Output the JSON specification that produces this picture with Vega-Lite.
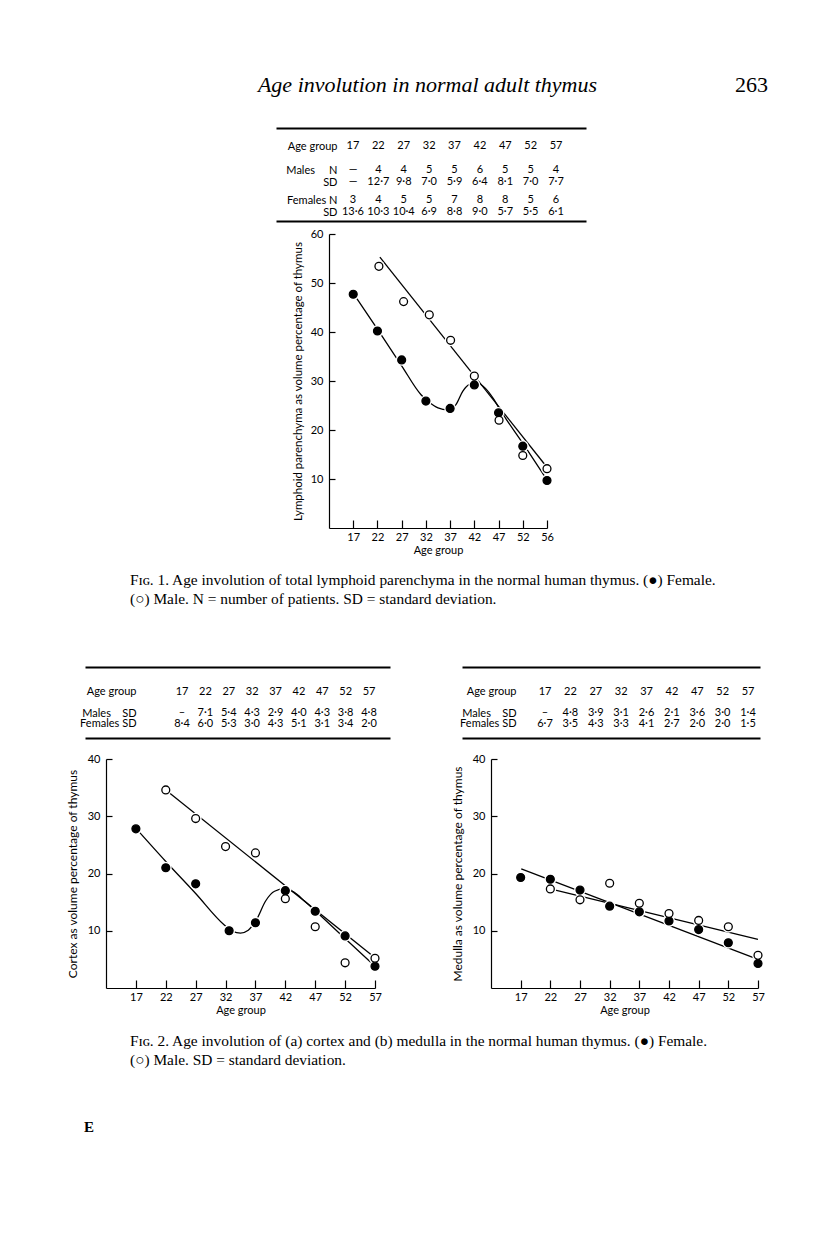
{
  "$schema": "https://vega.github.io/schema/vega-lite/v6.json",
  "background": "white",
  "padding": 0,
  "spacing": 0,
  "bounds": "full",
  "align": "none",
  "datasets": {
    "ages": [
      {"row": "hdr", "age": 17, "txt": "17"}, {"row": "hdr", "age": 22, "txt": "22"}, {"row": "hdr", "age": 27, "txt": "27"},
      {"row": "hdr", "age": 32, "txt": "32"}, {"row": "hdr", "age": 37, "txt": "37"}, {"row": "hdr", "age": 42, "txt": "42"},
      {"row": "hdr", "age": 47, "txt": "47"}, {"row": "hdr", "age": 52, "txt": "52"}, {"row": "hdr", "age": 57, "txt": "57"}
    ],
    "t1_vals": [
      {"row": "mN", "age": 17, "txt": "—"}, {"row": "mN", "age": 22, "txt": "4"}, {"row": "mN", "age": 27, "txt": "4"},
      {"row": "mN", "age": 32, "txt": "5"}, {"row": "mN", "age": 37, "txt": "5"}, {"row": "mN", "age": 42, "txt": "6"},
      {"row": "mN", "age": 47, "txt": "5"}, {"row": "mN", "age": 52, "txt": "5"}, {"row": "mN", "age": 57, "txt": "4"},
      {"row": "mSD", "age": 17, "txt": "—"}, {"row": "mSD", "age": 22, "txt": "12·7"}, {"row": "mSD", "age": 27, "txt": "9·8"},
      {"row": "mSD", "age": 32, "txt": "7·0"}, {"row": "mSD", "age": 37, "txt": "5·9"}, {"row": "mSD", "age": 42, "txt": "6·4"},
      {"row": "mSD", "age": 47, "txt": "8·1"}, {"row": "mSD", "age": 52, "txt": "7·0"}, {"row": "mSD", "age": 57, "txt": "7·7"},
      {"row": "fN", "age": 17, "txt": "3"}, {"row": "fN", "age": 22, "txt": "4"}, {"row": "fN", "age": 27, "txt": "5"},
      {"row": "fN", "age": 32, "txt": "5"}, {"row": "fN", "age": 37, "txt": "7"}, {"row": "fN", "age": 42, "txt": "8"},
      {"row": "fN", "age": 47, "txt": "8"}, {"row": "fN", "age": 52, "txt": "5"}, {"row": "fN", "age": 57, "txt": "6"},
      {"row": "fSD", "age": 17, "txt": "13·6"}, {"row": "fSD", "age": 22, "txt": "10·3"}, {"row": "fSD", "age": 27, "txt": "10·4"},
      {"row": "fSD", "age": 32, "txt": "6·9"}, {"row": "fSD", "age": 37, "txt": "8·8"}, {"row": "fSD", "age": 42, "txt": "9·0"},
      {"row": "fSD", "age": 47, "txt": "5·7"}, {"row": "fSD", "age": 52, "txt": "5·5"}, {"row": "fSD", "age": 57, "txt": "6·1"}
    ],
    "t2a_vals": [
      {"row": "mSD", "age": 17, "txt": "–"}, {"row": "mSD", "age": 22, "txt": "7·1"}, {"row": "mSD", "age": 27, "txt": "5·4"},
      {"row": "mSD", "age": 32, "txt": "4·3"}, {"row": "mSD", "age": 37, "txt": "2·9"}, {"row": "mSD", "age": 42, "txt": "4·0"},
      {"row": "mSD", "age": 47, "txt": "4·3"}, {"row": "mSD", "age": 52, "txt": "3·8"}, {"row": "mSD", "age": 57, "txt": "4·8"},
      {"row": "fSD", "age": 17, "txt": "8·4"}, {"row": "fSD", "age": 22, "txt": "6·0"}, {"row": "fSD", "age": 27, "txt": "5·3"},
      {"row": "fSD", "age": 32, "txt": "3·0"}, {"row": "fSD", "age": 37, "txt": "4·3"}, {"row": "fSD", "age": 42, "txt": "5·1"},
      {"row": "fSD", "age": 47, "txt": "3·1"}, {"row": "fSD", "age": 52, "txt": "3·4"}, {"row": "fSD", "age": 57, "txt": "2·0"}
    ],
    "t2b_vals": [
      {"row": "mSD", "age": 17, "txt": "–"}, {"row": "mSD", "age": 22, "txt": "4·8"}, {"row": "mSD", "age": 27, "txt": "3·9"},
      {"row": "mSD", "age": 32, "txt": "3·1"}, {"row": "mSD", "age": 37, "txt": "2·6"}, {"row": "mSD", "age": 42, "txt": "2·1"},
      {"row": "mSD", "age": 47, "txt": "3·6"}, {"row": "mSD", "age": 52, "txt": "3·0"}, {"row": "mSD", "age": 57, "txt": "1·4"},
      {"row": "fSD", "age": 17, "txt": "6·7"}, {"row": "fSD", "age": 22, "txt": "3·5"}, {"row": "fSD", "age": 27, "txt": "4·3"},
      {"row": "fSD", "age": 32, "txt": "3·3"}, {"row": "fSD", "age": 37, "txt": "4·1"}, {"row": "fSD", "age": 42, "txt": "2·7"},
      {"row": "fSD", "age": 47, "txt": "2·0"}, {"row": "fSD", "age": 52, "txt": "2·0"}, {"row": "fSD", "age": 57, "txt": "1·5"}
    ],
    "f1_pts": [
      {"sex": "Female", "age": 17, "pct": 47.7}, {"sex": "Female", "age": 22, "pct": 40.2}, {"sex": "Female", "age": 27, "pct": 34.3},
      {"sex": "Female", "age": 32, "pct": 25.9}, {"sex": "Female", "age": 37, "pct": 24.4}, {"sex": "Female", "age": 42, "pct": 29.2},
      {"sex": "Female", "age": 47, "pct": 23.5}, {"sex": "Female", "age": 52, "pct": 16.7}, {"sex": "Female", "age": 57, "pct": 9.7},
      {"sex": "Male", "age": 22.3, "pct": 53.4}, {"sex": "Male", "age": 27.4, "pct": 46.2}, {"sex": "Male", "age": 32.7, "pct": 43.5},
      {"sex": "Male", "age": 37.1, "pct": 38.3}, {"sex": "Male", "age": 42, "pct": 31.0}, {"sex": "Male", "age": 47.1, "pct": 22.0},
      {"sex": "Male", "age": 52, "pct": 14.8}, {"sex": "Male", "age": 57, "pct": 12.1}
    ],
    "f1_lines": [
      {"fit": "Female", "age": 17, "pct": 47.9}, {"fit": "Female", "age": 22, "pct": 40.6}, {"fit": "Female", "age": 27, "pct": 33.1},
      {"fit": "Female", "age": 31, "pct": 27.2}, {"fit": "Female", "age": 32.5, "pct": 25.8},
      {"fit": "Female", "age": 34.5, "pct": 24.5}, {"fit": "Female", "age": 36.5, "pct": 24.1}, {"fit": "Female", "age": 38.2, "pct": 25.2},
      {"fit": "Female", "age": 39.6, "pct": 27.9}, {"fit": "Female", "age": 41, "pct": 29.3}, {"fit": "Female", "age": 42.5, "pct": 29.6},
      {"fit": "Female", "age": 44.3, "pct": 28.5}, {"fit": "Female", "age": 46, "pct": 26.3}, {"fit": "Female", "age": 47.2, "pct": 24.3},
      {"fit": "Female", "age": 52, "pct": 17.3}, {"fit": "Female", "age": 57, "pct": 9.8},
      {"fit": "Male", "age": 22.5, "pct": 55.3}, {"fit": "Male", "age": 57, "pct": 12.4}
    ],
    "f2a_pts": [
      {"sex": "Female", "age": 17, "pct": 27.8}, {"sex": "Female", "age": 22, "pct": 21.0}, {"sex": "Female", "age": 27, "pct": 18.2},
      {"sex": "Female", "age": 32.6, "pct": 10.0}, {"sex": "Female", "age": 37, "pct": 11.4}, {"sex": "Female", "age": 42, "pct": 17.0},
      {"sex": "Female", "age": 47, "pct": 13.4}, {"sex": "Female", "age": 52, "pct": 9.1}, {"sex": "Female", "age": 57, "pct": 3.8},
      {"sex": "Male", "age": 22, "pct": 34.6}, {"sex": "Male", "age": 27, "pct": 29.6}, {"sex": "Male", "age": 32, "pct": 24.7},
      {"sex": "Male", "age": 37, "pct": 23.6}, {"sex": "Male", "age": 42, "pct": 15.6}, {"sex": "Male", "age": 47, "pct": 10.7},
      {"sex": "Male", "age": 52, "pct": 4.4}, {"sex": "Male", "age": 57, "pct": 5.2}
    ],
    "f2a_lines": [
      {"fit": "Female", "age": 17, "pct": 27.9}, {"fit": "Female", "age": 22, "pct": 22.1}, {"fit": "Female", "age": 27, "pct": 16.5},
      {"fit": "Female", "age": 31.7, "pct": 11.1}, {"fit": "Female", "age": 33.2, "pct": 9.9},
      {"fit": "Female", "age": 34.5, "pct": 9.6}, {"fit": "Female", "age": 35.8, "pct": 10.1}, {"fit": "Female", "age": 37.2, "pct": 12.0},
      {"fit": "Female", "age": 38.7, "pct": 15.2}, {"fit": "Female", "age": 40.2, "pct": 16.9}, {"fit": "Female", "age": 41.8, "pct": 17.3},
      {"fit": "Female", "age": 43.5, "pct": 16.7}, {"fit": "Female", "age": 45.2, "pct": 15.2}, {"fit": "Female", "age": 51, "pct": 9.6},
      {"fit": "Female", "age": 57, "pct": 3.8},
      {"fit": "Male", "age": 22, "pct": 34.6}, {"fit": "Male", "age": 57, "pct": 5.3}
    ],
    "f2b_pts": [
      {"sex": "Female", "age": 17, "pct": 19.3}, {"sex": "Female", "age": 22, "pct": 19.0}, {"sex": "Female", "age": 27, "pct": 17.1},
      {"sex": "Female", "age": 32, "pct": 14.3}, {"sex": "Female", "age": 37, "pct": 13.3}, {"sex": "Female", "age": 42, "pct": 11.7},
      {"sex": "Female", "age": 47, "pct": 10.2}, {"sex": "Female", "age": 52, "pct": 7.9}, {"sex": "Female", "age": 57, "pct": 4.3},
      {"sex": "Male", "age": 22, "pct": 17.3}, {"sex": "Male", "age": 27, "pct": 15.4}, {"sex": "Male", "age": 32, "pct": 18.3},
      {"sex": "Male", "age": 37, "pct": 14.8}, {"sex": "Male", "age": 42, "pct": 13.0}, {"sex": "Male", "age": 47, "pct": 11.8},
      {"sex": "Male", "age": 52, "pct": 10.7}, {"sex": "Male", "age": 57, "pct": 5.7}
    ],
    "f2b_lines": [
      {"fit": "Female", "age": 17.1, "pct": 20.8}, {"fit": "Female", "age": 57, "pct": 5.0},
      {"fit": "Male", "age": 21.3, "pct": 17.5}, {"fit": "Male", "age": 57, "pct": 8.5}
    ]
  },
  "vconcat": [
    {"width": 816, "height": 74, "data": {"values": []}, "mark": "point"},
    {
      "hconcat": [
        {"width": 276, "height": 99.5, "data": {"values": []}, "mark": "point"},
        {
          "width": 310, "height": 93,
          "title": {"text": "Age involution in normal adult thymus", "orient": "top", "anchor": "middle", "frame": "group", "font": "Liberation Serif", "fontStyle": "italic", "fontSize": 22, "fontWeight": "normal", "offset": 31, "dx": -3.5},
          "encoding": {
            "y": {"field": "row", "type": "ordinal",
              "scale": {"type": "point", "padding": 0, "domain": ["k0", "k1", "k2", "k3", "k4", "k5", "hdr", "k7", "k8", "k9", "k10", "k11", "k12", "k13", "mN", "k15", "k16", "k17", "mSD", "k19", "k20", "k21", "k22", "k23", "fN", "k25", "k26", "k27", "fSD", "k29", "k30", "k31"]},
              "axis": {"values": ["hdr", "mN", "mSD", "fN", "fSD"], "title": null, "domain": false, "ticks": false, "tickSize": 0, "labelPadding": -61, "labelAlign": "right", "labelFontSize": 11,
                "labelExpr": "datum.value == 'hdr' ? 'Age group' : datum.value == 'mN' ? 'Males\u00a0\u00a0\u00a0\u00a0\u00a0N\u00a0\u00a0' : datum.value == 'mSD' ? 'SD' : datum.value == 'fN' ? 'Females N\u00a0\u00a0\u00a0' : 'SD'"}}
          },
          "layer": [
            {"data": {"name": "ages"}, "mark": {"type": "text", "font": "Lato", "fontSize": 11, "color": "black"},
              "encoding": {"x": {"field": "age", "type": "quantitative", "scale": {"domain": [1.83, 62.91], "nice": false, "zero": false},
                "axis": {"orient": "top", "labels": false, "ticks": false, "tickSize": 0, "title": null, "domainWidth": 2}},
                "text": {"field": "txt"}}},
            {"data": {"name": "t1_vals"}, "mark": {"type": "text", "font": "Lato", "fontSize": 11, "color": "black"},
              "encoding": {"x": {"field": "age", "type": "quantitative", "scale": {"domain": [1.83, 62.91], "nice": false, "zero": false},
                "axis": {"orient": "bottom", "labels": false, "ticks": false, "tickSize": 0, "title": null, "domainWidth": 2}},
                "text": {"field": "txt"}}}
          ],
          "resolve": {"axis": {"x": "independent"}}
        },
        {"width": 149, "height": 1, "data": {"values": []}, "mark": "point"},
        {"width": 81, "height": 1, "data": {"values": []}, "mark": "point",
          "title": {"text": "263", "orient": "top", "anchor": "start", "frame": "group", "font": "Liberation Serif", "fontSize": 22, "fontWeight": "normal", "offset": 31}}
      ],
      "spacing": 0, "bounds": "flush", "align": "none"
    },
    {
      "hconcat": [
        {"width": 329, "height": 338, "data": {"values": []}, "mark": "point"},
        {
          "width": 218, "height": 294,
          "encoding": {
            "x": {"field": "age", "type": "quantitative", "scale": {"domain": [12, 57], "nice": false, "zero": false},
              "axis": {"values": [17, 22, 27, 32, 37, 42, 47, 52, 57], "labelExpr": "datum.value == 57 ? '56' : datum.label", "title": "Age group", "tickSize": -8, "labelPadding": 11, "labelFontSize": 11, "titleFontSize": 11, "titlePadding": 2}},
            "y": {"field": "pct", "type": "quantitative", "scale": {"domain": [0, 60], "nice": false, "zero": false},
              "axis": {"values": [10, 20, 30, 40, 50, 60], "title": "Lymphoid parenchyma as volume percentage of thymus", "tickSize": -6, "labelPadding": 12, "labelFontSize": 11, "titleFontSize": 11.5, "titlePadding": 7}}
          },
          "layer": [
            {"data": {"name": "f1_lines"}, "mark": {"type": "line", "interpolate": "monotone", "color": "black", "strokeWidth": 1.3}, "encoding": {"detail": {"field": "fit"}}},
            {"data": {"name": "f1_pts"}, "mark": {"type": "point", "shape": "circle", "filled": true, "color": "white", "size": 140, "opacity": 1}},
            {"data": {"name": "f1_pts"}, "mark": {"type": "point", "shape": "circle", "filled": true, "size": 62, "stroke": "black", "strokeWidth": 1.3, "opacity": 1},
              "encoding": {"fill": {"field": "sex", "type": "nominal", "scale": {"domain": ["Female", "Male"], "range": ["black", "white"]}, "legend": null}}}
          ]
        }
      ],
      "spacing": 0, "bounds": "flush", "align": "none"
    },
    {
      "hconcat": [
        {"width": 130, "height": 95, "data": {"values": []}, "mark": "point"},
        {"width": 620, "height": 1, "data": {"values": []}, "mark": "point",
          "title": {"text": ["Fɪɢ. 1. Age involution of total lymphoid parenchyma in the normal human thymus. (●) Female.", "(○) Male. N = number of patients. SD = standard deviation."],
            "orient": "bottom", "anchor": "start", "frame": "group", "font": "Liberation Serif", "fontSize": 15.4, "fontWeight": "normal", "lineHeight": 19, "offset": 0}}
      ],
      "spacing": 0, "bounds": "flush", "align": "none"
    },
    {
      "hconcat": [
        {"width": 85, "height": 86, "data": {"values": []}, "mark": "point"},
        {
          "width": 305, "height": 71,
          "encoding": {
            "y": {"field": "row", "type": "ordinal",
              "scale": {"type": "point", "padding": 0, "domain": ["k0", "k1", "k2", "k3", "k4", "k5", "k6", "hdr", "k8", "k9", "k10", "k11", "k12", "mSD", "k14", "k15", "fSD", "k17", "k18", "k19", "k20"]},
              "axis": {"values": ["hdr", "mSD", "fSD"], "title": null, "domain": false, "ticks": false, "tickSize": 0, "labelPadding": -51, "labelAlign": "right", "labelFontSize": 11,
                "labelExpr": "datum.value == 'hdr' ? 'Age group' : datum.value == 'mSD' ? 'Males\u00a0\u00a0\u00a0\u00a0SD\u00a0' : 'Females SD\u00a0'"}}
          },
          "layer": [
            {"data": {"name": "ages"}, "mark": {"type": "text", "font": "Lato", "fontSize": 11, "color": "black"},
              "encoding": {"x": {"field": "age", "type": "quantitative", "scale": {"domain": [-3.75, 61.49], "nice": false, "zero": false},
                "axis": {"orient": "top", "labels": false, "ticks": false, "tickSize": 0, "title": null, "domainWidth": 2.2}},
                "text": {"field": "txt"}}},
            {"data": {"name": "t2a_vals"}, "mark": {"type": "text", "font": "Lato", "fontSize": 11, "color": "black"},
              "encoding": {"x": {"field": "age", "type": "quantitative", "scale": {"domain": [-3.75, 61.49], "nice": false, "zero": false},
                "axis": {"orient": "bottom", "labels": false, "ticks": false, "tickSize": 0, "title": null, "domainWidth": 2.2}},
                "text": {"field": "txt"}}}
          ],
          "resolve": {"axis": {"x": "independent"}}
        },
        {"width": 72, "height": 1, "data": {"values": []}, "mark": "point"},
        {
          "width": 298, "height": 71,
          "encoding": {
            "y": {"field": "row", "type": "ordinal",
              "scale": {"type": "point", "padding": 0, "domain": ["k0", "k1", "k2", "k3", "k4", "k5", "k6", "hdr", "k8", "k9", "k10", "k11", "k12", "mSD", "k14", "k15", "fSD", "k17", "k18", "k19", "k20"]},
              "axis": {"values": ["hdr", "mSD", "fSD"], "title": null, "domain": false, "ticks": false, "tickSize": 0, "labelPadding": -54, "labelAlign": "right", "labelFontSize": 11,
                "labelExpr": "datum.value == 'hdr' ? 'Age group' : datum.value == 'mSD' ? 'Males\u00a0\u00a0\u00a0\u00a0SD\u00a0' : 'Females SD\u00a0'"}}
          },
          "layer": [
            {"data": {"name": "ages"}, "mark": {"type": "text", "font": "Lato", "fontSize": 11, "color": "black"},
              "encoding": {"x": {"field": "age", "type": "quantitative", "scale": {"domain": [0.645, 59.36], "nice": false, "zero": false},
                "axis": {"orient": "top", "labels": false, "ticks": false, "tickSize": 0, "title": null, "domainWidth": 2.2}},
                "text": {"field": "txt"}}},
            {"data": {"name": "t2b_vals"}, "mark": {"type": "text", "font": "Lato", "fontSize": 11, "color": "black"},
              "encoding": {"x": {"field": "age", "type": "quantitative", "scale": {"domain": [0.645, 59.36], "nice": false, "zero": false},
                "axis": {"orient": "bottom", "labels": false, "ticks": false, "tickSize": 0, "title": null, "domainWidth": 2.2}},
                "text": {"field": "txt"}}}
          ],
          "resolve": {"axis": {"x": "independent"}}
        }
      ],
      "spacing": 0, "bounds": "flush", "align": "none"
    },
    {
      "hconcat": [
        {"width": 106, "height": 274, "data": {"values": []}, "mark": "point"},
        {
          "width": 269, "height": 229,
          "encoding": {
            "x": {"field": "age", "type": "quantitative", "scale": {"domain": [12, 57], "nice": false, "zero": false},
              "axis": {"values": [17, 22, 27, 32, 37, 42, 47, 52, 57], "title": "Age group", "tickSize": -8, "labelPadding": 11, "labelFontSize": 11, "titleFontSize": 11, "titlePadding": 2}},
            "y": {"field": "pct", "type": "quantitative", "scale": {"domain": [0, 40], "nice": false, "zero": false},
              "axis": {"values": [10, 20, 30, 40], "title": "Cortex as volume percentage of thymus", "tickSize": -6, "labelPadding": 12, "labelFontSize": 11, "titleFontSize": 12, "titlePadding": 8}}
          },
          "layer": [
            {"data": {"name": "f2a_lines"}, "mark": {"type": "line", "interpolate": "monotone", "color": "black", "strokeWidth": 1.3}, "encoding": {"detail": {"field": "fit"}}},
            {"data": {"name": "f2a_pts"}, "mark": {"type": "point", "shape": "circle", "filled": true, "color": "white", "size": 140, "opacity": 1}},
            {"data": {"name": "f2a_pts"}, "mark": {"type": "point", "shape": "circle", "filled": true, "size": 62, "stroke": "black", "strokeWidth": 1.3, "opacity": 1},
              "encoding": {"fill": {"field": "sex", "type": "nominal", "scale": {"domain": ["Female", "Male"], "range": ["black", "white"]}, "legend": null}}},
            {"data": {"values": [{}]}, "mark": {"type": "text", "font": "Lato", "fontSize": 11, "color": "black"},
              "encoding": {"x": {"datum": 17.3}, "y": {"datum": 33.9}, "text": {"value": "(a)"}}}
          ]
        },
        {"width": 116, "height": 1, "data": {"values": []}, "mark": "point"},
        {
          "width": 267, "height": 229,
          "encoding": {
            "x": {"field": "age", "type": "quantitative", "scale": {"domain": [12, 57], "nice": false, "zero": false},
              "axis": {"values": [17, 22, 27, 32, 37, 42, 47, 52, 57], "title": "Age group", "tickSize": -8, "labelPadding": 11, "labelFontSize": 11, "titleFontSize": 11, "titlePadding": 2}},
            "y": {"field": "pct", "type": "quantitative", "scale": {"domain": [0, 40], "nice": false, "zero": false},
              "axis": {"values": [10, 20, 30, 40], "title": "Medulla as volume percentage of thymus", "tickSize": -6, "labelPadding": 12, "labelFontSize": 11, "titleFontSize": 12, "titlePadding": 8}}
          },
          "layer": [
            {"data": {"name": "f2b_lines"}, "mark": {"type": "line", "color": "black", "strokeWidth": 1.3}, "encoding": {"detail": {"field": "fit"}}},
            {"data": {"name": "f2b_pts"}, "mark": {"type": "point", "shape": "circle", "filled": true, "color": "white", "size": 140, "opacity": 1}},
            {"data": {"name": "f2b_pts"}, "mark": {"type": "point", "shape": "circle", "filled": true, "size": 62, "stroke": "black", "strokeWidth": 1.3, "opacity": 1},
              "encoding": {"fill": {"field": "sex", "type": "nominal", "scale": {"domain": ["Female", "Male"], "range": ["black", "white"]}, "legend": null}}},
            {"data": {"values": [{}]}, "mark": {"type": "text", "font": "Lato", "fontSize": 11, "color": "black"},
              "encoding": {"x": {"datum": 17.3}, "y": {"datum": 33.9}, "text": {"value": "(b)"}}}
          ]
        }
      ],
      "spacing": 0, "bounds": "flush", "align": "none"
    },
    {
      "hconcat": [
        {"width": 130, "height": 86, "data": {"values": []}, "mark": "point"},
        {"width": 620, "height": 1, "data": {"values": []}, "mark": "point",
          "title": {"text": ["Fɪɢ. 2. Age involution of (a) cortex and (b) medulla in the normal human thymus. (●) Female.", "(○) Male. SD = standard deviation."],
            "orient": "bottom", "anchor": "start", "frame": "group", "font": "Liberation Serif", "fontSize": 15.4, "fontWeight": "normal", "lineHeight": 19, "offset": 0}}
      ],
      "spacing": 0, "bounds": "flush", "align": "none"
    },
    {
      "hconcat": [
        {"width": 84, "height": 1, "data": {"values": []}, "mark": "point"},
        {"width": 30, "height": 1, "data": {"values": []}, "mark": "point",
          "title": {"text": "E", "orient": "bottom", "anchor": "start", "frame": "group", "font": "Liberation Serif", "fontSize": 15, "fontWeight": "bold", "offset": 0}}
      ],
      "spacing": 0, "bounds": "flush", "align": "none"
    }
  ],
  "config": {
    "view": {"stroke": null},
    "font": "Lato",
    "axis": {"grid": false, "labelFont": "Lato", "titleFont": "Lato", "labelColor": "black", "titleColor": "black", "domainColor": "black", "tickColor": "black", "titleFontWeight": "normal", "labelFlush": false, "labelOverlap": false, "domainWidth": 1.2, "tickWidth": 1.2},
    "title": {"color": "black", "fontWeight": "normal"}
  }
}
